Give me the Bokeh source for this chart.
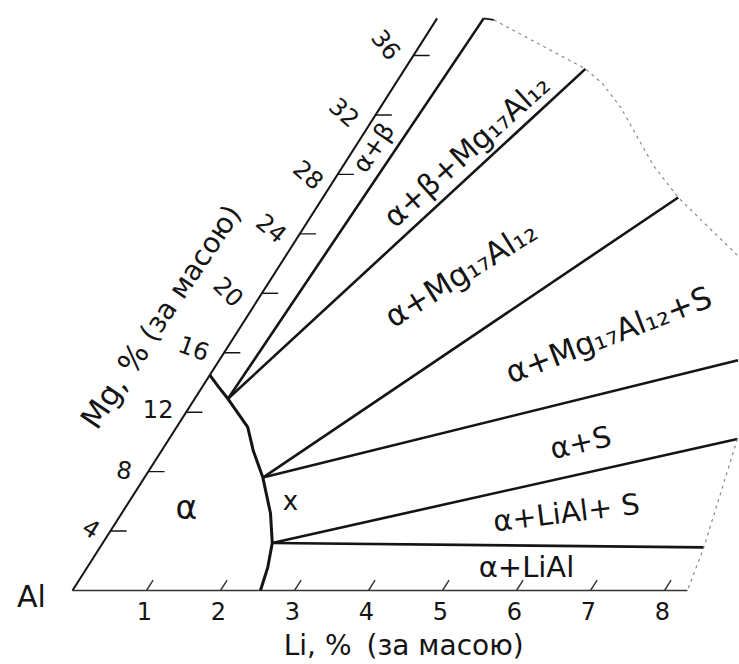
import numpy as np
from bokeh.plotting import figure
from bokeh.models import Range1d
from bokeh.embed import file_html
from bokeh.resources import INLINE
from bokeh.core.properties import value

# ---- data: compositions in wt.% (Li, Mg) ----
li_ticks = [1, 2, 3, 4, 5, 6, 7, 8]
li_tick_labels = ["1", "2", "3", "4", "5", "6", "7", "8"]
mg_ticks = [4, 8, 12, 16, 20, 24, 28, 32, 36]
mg_tick_labels = ["4", "8", "12", "16", "20", "24", "28", "32", "36"]
li_axis_max = 8.31
mg_axis_max = 38.5

# boundary of the alpha solid-solution field
alpha_li = [0.0, 0.22, 0.45, 0.96, 1.24, 1.60, 2.01, 2.29, 2.44, 2.54]
alpha_mg = [14.5, 13.7, 12.9, 11.0, 9.4, 7.6, 5.2, 3.2, 1.55, 0.0]

# phase-field boundaries (tie lines)
tie_start_li = [0.45, 0.45, 1.60, 1.60, 2.29, 2.29]
tie_start_mg = [12.9, 12.9, 7.6, 7.6, 3.2, 3.2]
tie_end_li = [0.63, 2.44, 4.80, 7.01, 7.68, 8.16]
tie_end_mg = [38.5, 35.1, 26.45, 15.5, 10.2, 2.9]

# dotted outer edge of the section
edge_top_li = [0.78, 2.44, 2.80, 3.25, 4.19, 4.80, 6.15]
edge_top_mg = [38.4, 35.1, 34.1, 32.5, 28.6, 26.45, 22.4]
edge_right_li = [7.68, 8.16, 8.31]
edge_right_mg = [10.2, 2.9, 0.0]

phase_labels = ["α", "x", "α+LiAl", "α+LiAl+ S", "α+S", "α+Mg₁₇Al₁₂+S",
                "α+Mg₁₇Al₁₂", "α+β+Mg₁₇Al₁₂", "α+β"]

# ---- diagram scale (oblique axes, Mg axis tilted) ----
W, H = 739, 664
ORIGIN = (72.0, 74.0)
LI_VEC = (74.0, 0.0)
MG_VEC = (9.47, 14.86)


def to_xy(li, mg):
    li = np.asarray(li, dtype=float)
    mg = np.asarray(mg, dtype=float)
    return (ORIGIN[0] + LI_VEC[0] * li + MG_VEC[0] * mg,
            ORIGIN[1] + LI_VEC[1] * li + MG_VEC[1] * mg)


def P(x, ytop):
    return x, H - ytop


INK = "#141414"
FONT = value("DejaVu Sans")

p = figure(width=W, height=H, x_range=Range1d(0, W), y_range=Range1d(0, H),
           output_backend="svg", toolbar_location=None,
           x_axis_location=None, y_axis_location=None, min_border=0)
p.grid.visible = False
p.outline_line_color = None
p.background_fill_color = "white"
p.border_fill_color = "white"

# axes
ax_x, ax_y = to_xy([0, li_axis_max], [0, 0])
p.line(ax_x, ax_y, line_color="#333333", line_width=1.6)
ay_x, ay_y = to_xy([0, 0], [0, mg_axis_max])
p.line(ay_x, ay_y, line_color=INK, line_width=2)

# Li ticks (slanted along Mg direction)
t0x, t0y = to_xy(li_ticks, [0] * len(li_ticks))
t1x, t1y = to_xy(li_ticks, [0.7] * len(li_ticks))
p.segment(t0x, t0y, t1x, t1y, line_color="#333333", line_width=1.4)
p.text(t0x - 2, t0y - 20, text=li_tick_labels, text_font=FONT, text_font_size="24px",
       text_align="center", text_baseline="middle", text_color=INK)

# Mg ticks (parallel to Li axis)
m0x, m0y = to_xy([0] * len(mg_ticks), mg_ticks)
m1x, m1y = to_xy([0.22] * len(mg_ticks), mg_ticks)
p.segment(m0x, m0y, m1x, m1y, line_color=INK, line_width=1.4)
mg_label_dx = [-19, -24, -28, -30, -33, -28, -29, -31, -27]
mg_label_dy = [3, 2, 3, 5, 2, 6, 0, 3, 11]
mg_label_angles = [-32, -10, 0, -20, -45, -40, -42, -42, -52]
p.text(m0x + np.array(mg_label_dx), m0y + np.array(mg_label_dy), text=mg_tick_labels,
       angle=mg_label_angles, angle_units="deg",
       text_font=FONT, text_font_size="24px", text_align="center",
       text_baseline="middle", text_color=INK)

# alpha field boundary
cx, cy = to_xy(alpha_li, alpha_mg)
p.line(cx, cy, line_color=INK, line_width=3)

# tie lines
sx, sy = to_xy(tie_start_li, tie_start_mg)
ex, ey = to_xy(tie_end_li, tie_end_mg)
p.multi_line([[a, b] for a, b in zip(sx, ex)], [[a, b] for a, b in zip(sy, ey)],
             line_color=INK, line_width=2.6)
# short stub at the top end of the first boundary
stx, sty = to_xy([tie_end_li[0], edge_top_li[0]], [tie_end_mg[0], edge_top_mg[0]])
p.line(stx, sty, line_color=INK, line_width=1.6)

# dotted outer edge
e1x, e1y = to_xy(edge_top_li, edge_top_mg)
e2x, e2y = to_xy(edge_right_li, edge_right_mg)
p.multi_line([list(e1x), list(e2x)], [list(e1y), list(e2y)],
             line_color="#8a8a8a", line_width=1.2, line_dash="3 4")

# phase field labels
lab_pos = [P(186, 507), P(290, 500), P(526, 566), P(566, 512), P(580, 442),
           P(608, 334), P(460, 273), P(466, 150), P(373, 147)]
lab_ang = [0, 0, 0, 7, 13, 21, 32, 42, 56]
lab_size = ["33px", "26px", "29px", "29px", "29px", "31px", "31px", "30px", "25px"]
for t, (x, y), a, s in zip(phase_labels, lab_pos, lab_ang, lab_size):
    p.text([x], [y], text=[t], angle=a, angle_units="deg", text_font=FONT,
           text_font_size=s, text_align="center", text_baseline="middle",
           text_color=INK)

# corner and axis titles
x, y = P(31, 596)
p.text([x], [y], text=["Al"], text_font=FONT, text_font_size="30px",
       text_align="center", text_baseline="middle", text_color=INK)

x, y = P(359, 645)
p.text([x - 8], [y], text=["Li, %"], text_font=FONT, text_font_size="28px",
       text_align="right", text_baseline="middle", text_color=INK)
p.text([x + 7], [y], text=["(за масою)"], text_font=FONT, text_font_size="28px",
       text_align="left", text_baseline="middle", text_color=INK)

ang = 56.0
d = (np.cos(np.radians(ang)), np.sin(np.radians(ang)))
jx, jy = P(143, 342)
p.text([jx - 4 * d[0]], [jy - 4 * d[1]], text=["Mg, %"], angle=ang, angle_units="deg",
       text_font=FONT, text_font_size="31px", text_align="right",
       text_baseline="middle", text_color=INK)
p.text([jx + 5 * d[0]], [jy + 5 * d[1]], text=["(за масою)"], angle=ang,
       angle_units="deg", text_font=FONT, text_font_size="28px", text_align="left",
       text_baseline="middle", text_color=INK)

open("out.html", "w").write(file_html(p, INLINE))
